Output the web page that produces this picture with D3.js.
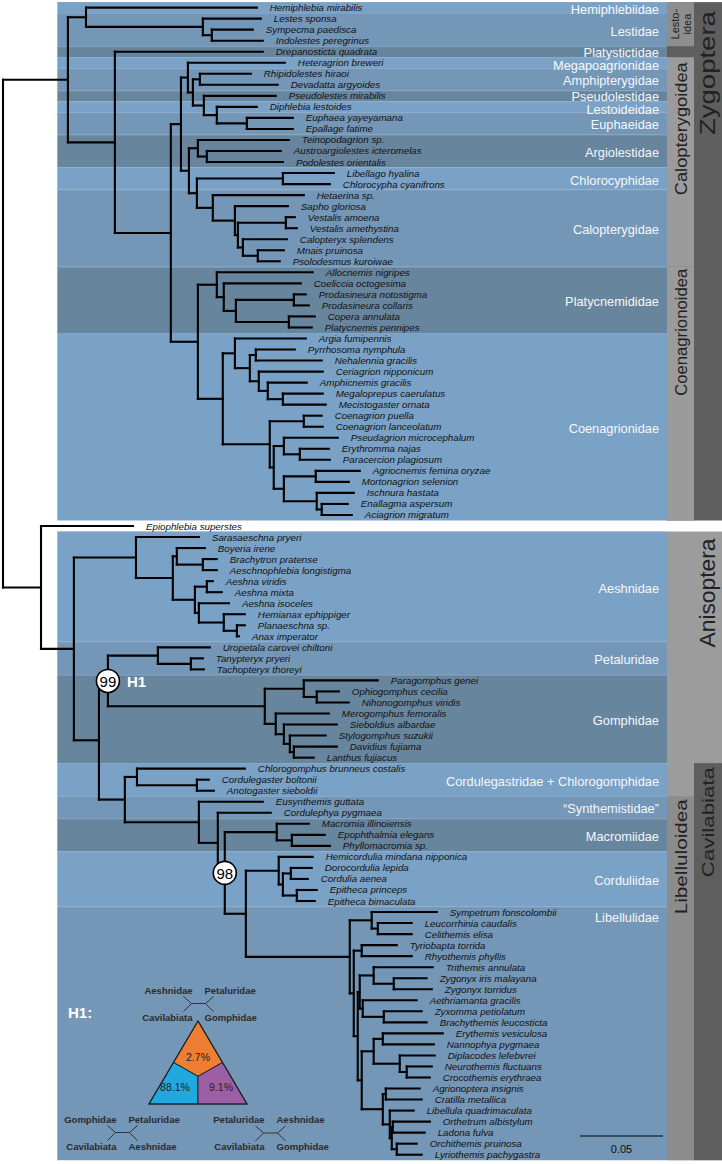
<!DOCTYPE html>
<html><head><meta charset="utf-8">
<script src="https://cdn.jsdelivr.net/npm/d3@7/dist/d3.min.js"></script>
<style>body{margin:0;background:#fff}svg{display:block}</style>
</head><body>
<script>
// ---------------- DATA ----------------
const tipNames = [
"Hemiphlebia mirabilis","Lestes sponsa","Sympecma paedisca","Indolestes peregrinus","Drepanosticta quadrata",
"Heteragrion breweri","Rhipidolestes hiraoi","Devadatta argyoides","Pseudolestes mirabilis","Diphlebia lestoides",
"Euphaea yayeyamana","Epallage fatime","Teinopodagrion sp.","Austroargiolestes icteromelas","Podolestes orientalis",
"Libellago hyalina","Chlorocypha cyanifrons","Hetaerina sp.","Sapho gloriosa","Vestalis amoena",
"Vestalis amethystina","Calopteryx splendens","Mnais pruinosa","Psolodesmus kuroiwae","Allocnemis nigripes",
"Coeliccia octogesima","Prodasineura notostigma","Prodasineura collaris","Copera annulata","Platycnemis pennipes",
"Argia fumipennis","Pyrrhosoma nymphula","Nehalennia gracilis","Ceriagrion nipponicum","Amphicnemis gracilis",
"Megaloprepus caerulatus","Mecistogaster ornata","Coenagrion puella","Coenagrion lanceolatum","Pseudagrion microcephalum",
"Erythromma najas","Paracercion plagiosum","Agriocnemis femina oryzae","Mortonagrion selenion","Ischnura hastata",
"Enallagma aspersum","Aciagrion migratum","Epiophlebia superstes","Sarasaeschna pryeri","Boyeria irene",
"Brachytron pratense","Aeschnophlebia longistigma","Aeshna viridis","Aeshna mixta","Aeshna isoceles",
"Hemianax ephippiger","Planaeschna sp.","Anax imperator","Uropetala carovei chiltoni","Tanypteryx pryeri",
"Tachopteryx thoreyi","Paragomphus genei","Ophiogomphus cecilia","Nihonogomphus viridis","Merogomphus femoralis",
"Sieboldius albardae","Stylogomphus suzukii","Davidius fujiama","Lanthus fujiacus","Chlorogomphus brunneus costalis",
"Cordulegaster boltonii","Anotogaster sieboldii","Eusynthemis guttata","Cordulephya pygmaea","Macromia illinoiensis",
"Epophthalmia elegans","Phyllomacromia sp.","Hemicordulia mindana nipponica","Dorocordulia lepida","Cordulia aenea",
"Epitheca princeps","Epitheca bimaculata","Sympetrum fonscolombii","Leucorrhinia caudalis","Celithemis elisa",
"Tyriobapta torrida","Rhyothemis phyllis","Trithemis annulata","Zygonyx iris malayana","Zygonyx torridus",
"Aethriamanta gracilis","Zyxomma petiolatum","Brachythemis leucosticta","Erythemis vesiculosa","Nannophya pygmaea",
"Diplacodes lefebvrei","Neurothemis fluctuans","Crocothemis erythraea","Agrionoptera insignis","Cratilla metallica",
"Libellula quadrimaculata","Orthetrum albistylum","Ladona fulva","Orchithemis pruinosa","Lyriothemis pachygastra"];

// clades: "tipIndex:depth" or "(children):depth[#support]"; depth = distance from root (subst./site)
const cladeLestoidea = "(0:0.1529,(1:0.1553,(2:0.1505,3:0.1565):0.1258):0.1204):0.0500";
const cladePseudolestes = "(8:0.1643,(9:0.1529,(10:0.1746,11:0.1746):0.1469):0.1288):0.1210";
const cladeCalA = `(5:0.1698,((6:0.1493,7:0.1655):0.1186,${cladePseudolestes}):0.1144):0.1114`;
const cladeArgiolestidae = "(12:0.1722,(13:0.1673,14:0.1686):0.1228):0.1174";
const cladeCalopterygidae = "(17:0.1812,(18:0.1716,((19:0.1758,20:0.1770):0.1704,(21:0.1710,(22:0.1692,23:0.1667):0.1535):0.1445):0.1415):0.1397):0.1264";
const cladeCalB = `(${cladeArgiolestidae},((15:0.1993,16:0.1969):0.1686,${cladeCalopterygidae}):0.1168):0.1120`;
const cladeCalopterygoidea = `(${cladeCalA},${cladeCalB}):0.1072`;
const cladePlatycnemididae = "(24:0.1866,(25:0.1794,((26:0.1824,27:0.1842):0.1752,(28:0.1878,29:0.1860):0.1722):0.1403):0.1330):0.1288";
const cladeCoenA = "(30:0.1824,((31:0.1758,32:0.1920):0.1523,(33:0.1926,(34:0.1830,(35:0.1926,36:0.1944):0.1686):0.1595):0.1541):0.1487):0.1397";
const cladeCoenB = "((37:0.1920,38:0.1926):0.1812,((39:0.2017,(40:0.1963,41:0.1969):0.1788):0.1692,((42:0.2149,43:0.2083):0.1884,(44:0.2113,(45:0.2077,46:0.2101):0.1920):0.1890):0.1692):0.1631):0.1607";
const cladeCoenagrionoidea = `(${cladePlatycnemididae},(${cladeCoenA},${cladeCoenB}):0.1324):0.1174`;
const cladeZygoptera = `(${cladeLestoidea},(4:0.1565,(${cladeCalopterygoidea},${cladeCoenagrionoidea}):0.1011):0.0674):0.0391`;

const cladeAeshnidae = "(48:0.1180,((49:0.1216,(50:0.1288,51:0.1288):0.1204):0.1047,((52:0.1264,53:0.1318):0.1228,(54:0.1361,(55:0.1457,(56:0.1457,57:0.1421):0.1409):0.1330):0.1180):0.1156):0.1023):0.0801";
const cladePetaluridae = "(58:0.1246,(59:0.1204,60:0.1210):0.1132):0.0933";
const cladeGomphidae = "((61:0.2258,(62:0.2023,63:0.2083):0.1890):0.1812,(64:0.1963,(65:0.2011,(66:0.1944,(67:0.2011,68:0.1872):0.1752):0.1728):0.1692):0.1643):0.1577";
const cladeCordulegastridae = "(69:0.1457,(70:0.1240,71:0.1270):0.1168):0.0807";
const cladeMacromiidae = "(74:0.1842,(75:0.1938,76:0.1969):0.1740):0.1649";
const cladeCorduliidae = "(77:0.1866,((78:0.1860,79:0.1836):0.1734,(80:0.1890,81:0.1878):0.1770):0.1686):0.1661";
const cladeLibA = "((87:0.2589,(88:0.2552,89:0.2583):0.2354):0.2233,(90:0.2492,(91:0.2522,92:0.2552):0.2294):0.2167):0.2149";
const cladeLibB = "(((93:0.2649,94:0.2595):0.2288,(95:0.2601,(96:0.2583,97:0.2571):0.2432):0.2390):0.2233,((98:0.2510,99:0.2522):0.2306,(100:0.2474,((101:0.2571,102:0.2540):0.2348,(103:0.2492,104:0.2522):0.2372):0.2342):0.2330):0.2288):0.2161";
const cladeLibellulidae = `((82:0.2613,(83:0.2462,84:0.2462):0.2258):0.2221,((85:0.2372,86:0.2462):0.2161,(${cladeLibA},${cladeLibB}):0.2137):0.2113):0.2089`;
const cladeLibelluloidea = `(72:0.1565,(73:0.1613,(${cladeMacromiidae},(${cladeCorduliidae},${cladeLibellulidae}):0.1463):0.1336#98):0.1294):0.1180`;
const cladeAnisoptera = `(${cladeAeshnidae},((${cladePetaluridae},${cladeGomphidae}):0.0632#99,(${cladeCordulegastridae},${cladeLibelluloidea}):0.0734):0.0578):0.0427`;
const treeString = `(${cladeZygoptera},(47:0.0783,${cladeAnisoptera}):0.0229):0`;

const familyNames = ["Hemiphlebiidae","Lestidae","Platystictidae","Megapoagrionidae","Amphipterygidae","Pseudolestidae",
"Lestoideidae","Euphaeidae","Argiolestidae","Chlorocyphidae","Calopterygidae","Platycnemididae","Coenagrionidae",
"Aeshnidae","Petaluridae","Gomphidae","Cordulegastridae + Chlorogomphidae","\u201CSynthemistidae\u201D","Macromiidae","Corduliidae","Libellulidae"];
const familyFirstTip = [0,1,4,5,6,8,9,10,12,15,17,24,30,48,58,61,69,72,74,77,82];
const familyLastTip  = [0,3,4,5,7,8,9,11,14,16,23,29,46,57,60,68,71,73,76,81,104];
const familySuborder = ["Z","Z","Z","Z","Z","Z","Z","Z","Z","Z","Z","Z","Z","A","A","A","A","A","A","A","A"];

const higherNames = ["Zygoptera","Lesto-\nidea","Calopterygoidea","Coenagrionoidea","Anisoptera","Cavilabiata","Libelluloidea"];
const higherFirstTip = [0,0,5,24,48,69,72];
const higherLastTip  = [46,3,23,46,104,104,104];

const quartetSupport = [2.7, 88.1, 9.1];
const quartetTopologies = [
  ["Aeshnidae","Petaluridae","Cavilabiata","Gomphidae"],
  ["Gomphidae","Petaluridae","Cavilabiata","Aeshnidae"],
  ["Petaluridae","Aeshnidae","Cavilabiata","Gomphidae"]];
const scaleBarLength = 0.05;

// ---------------- DRAW ----------------
const W = 722, H = 1164;
const FONT = "'Liberation Sans', Arial, Helvetica, sans-serif";
const svg = d3.select("body").append("svg").attr("width", W).attr("height", H)
  .style("font-family", FONT);

function parseTree(str){
  let i = 0;
  function meta(){
    const m = /^:([0-9.]+)(?:#(\w+))?/.exec(str.slice(i));
    i += m[0].length;
    return {depth:+m[1], support:m[2] || null};
  }
  function node(){
    if (str[i] === "("){
      i++;
      const children = [node()];
      while (str[i] === ","){ i++; children.push(node()); }
      i++;
      return Object.assign({children}, meta());
    }
    const m = /^\d+/.exec(str.slice(i)); i += m[0].length;
    return Object.assign({tip:+m[0]}, meta());
  }
  return node();
}

const root = d3.hierarchy(parseTree(treeString));
const x = d3.scaleLinear().domain([0, 0.05]).range([3, 86]);
const y = d3.scaleLinear().domain([0, tipNames.length - 1]).range([7.6, 1154.7]);
const step = y(1) - y(0);
root.eachAfter(n => {
  n.px = x(n.data.depth);
  if (n.children) n.py = (n.children[0].py + n.children[n.children.length-1].py) / 2;
  else n.py = y(n.data.tip);
});

const bandLeft = 57.3, bandRight = 667;
const shades = ["#7aa2c6", "#7496b7", "#68859e"];

// family bands
const gBands = svg.append("g");
const gBandLabels = svg.append("g");
let zi = 0, ai = 0;
const famLabels = [];
familyNames.forEach((name, k) => {
  const idx = familySuborder[k] === "Z" ? zi++ : ai++;
  const top = y(familyFirstTip[k]) - step/2, bot = y(familyLastTip[k]) + step/2;
  gBands.append("rect").attr("x", bandLeft).attr("y", top).attr("width", bandRight - bandLeft)
    .attr("height", bot - top).attr("fill", shades[idx % 3]);
  gBands.append("line").attr("x1", bandLeft).attr("x2", bandRight).attr("y1", top + 0.5).attr("y2", top + 0.5)
    .attr("stroke", "#86a9c8").attr("stroke-width", 1).attr("opacity", 0.6);
  const ly = name === "Libellulidae" ? top + 11 : (top + bot) / 2 + 1.5;
  famLabels.push({name, ly});
});
// keep neighbouring single-row labels from colliding
for (let k = 0; k < famLabels.length - 1; k++) {
  const gap = famLabels[k+1].ly - famLabels[k].ly, minGap = 13;
  if (gap < minGap) { famLabels[k].ly -= (minGap - gap) / 2; famLabels[k+1].ly += (minGap - gap) / 2; }
}
famLabels.forEach(f => {
  gBandLabels.append("text").attr("x", 659).attr("y", f.ly).attr("text-anchor", "end")
    .attr("dominant-baseline", "central").attr("fill", "#f5f7fa").attr("font-size", 12.8).text(f.name);
});

// higher taxa columns
const col0 = 667, col1 = 694, colEnd = 722;
const higherStyle = {
  "Zygoptera":      {x0: col0, x1: colEnd, fill: "#5e5e5e", fs: 22, cx: 707, anchor: "end", pad: 9, len: 124},
  "Lesto-\nidea":   {x0: col0, x1: col1, fill: "#8e8e8e", fs: 11, cx: 680.5, anchor: "middle"},
  "Calopterygoidea":{x0: col0, x1: col1, fill: "#9b9b9b", fs: 17, cx: 681, anchor: "end", pad: 5, len: 133},
  "Coenagrionoidea":{x0: col0, x1: col1, fill: "#9b9b9b", fs: 16.5, cx: 681, anchor: "end", pad: 2, len: 127},
  "Anisoptera":     {x0: col0, x1: colEnd, fill: "#9c9c9c", fs: 22.5, cx: 707, anchor: "end", pad: 7, len: 109},
  "Cavilabiata":    {x0: col1, x1: colEnd, fill: "#5e5e5e", fs: 17, cx: 708, anchor: "end", pad: 4, len: 110},
  "Libelluloidea":  {x0: col0, x1: col1, fill: "#8c8c8c", fs: 17, cx: 681, anchor: "end", pad: 3, len: 115}
};
const gHigh = svg.append("g");
higherNames.forEach((name, k) => {
  const s = higherStyle[name];
  const top = y(higherFirstTip[k]) - step/2, bot = y(higherLastTip[k]) + step/2;
  gHigh.append("rect").attr("x", s.x0).attr("y", top).attr("width", s.x1 - s.x0).attr("height", bot - top)
    .attr("fill", s.fill);
});
higherNames.forEach((name, k) => {
  const s = higherStyle[name];
  const top = y(higherFirstTip[k]) - step/2, bot = y(higherLastTip[k]) + step/2;
  const lines = name.split("\n");
  if (s.anchor === "middle") {
    lines.forEach((ln, j) => {
      gHigh.append("text").attr("transform", `translate(${s.cx - 6 + j*12},${(top+bot)/2}) rotate(-90)`)
        .attr("text-anchor", "middle").attr("dominant-baseline", "central")
        .attr("font-size", s.fs).attr("fill", "#222").text(ln);
    });
  } else {
    const t = gHigh.append("text").attr("transform", `translate(${s.cx},${top + s.pad}) rotate(-90)`)
      .attr("text-anchor", "end").attr("dominant-baseline", "central")
      .attr("font-size", s.fs).attr("fill", "#222").text(name);
    if (s.len) t.attr("textLength", s.len).attr("lengthAdjust", "spacingAndGlyphs");
  }
});

// tree edges
const gTree = svg.append("g").attr("stroke", "#000").attr("stroke-width", 2.1)
  .attr("stroke-linecap", "square").attr("fill", "none");
root.descendants().forEach(n => {
  if (n.children) {
    const a = n.children[0].py, b = n.children[n.children.length-1].py;
    gTree.append("path").attr("d", `M${n.px},${a}V${b}`);
  }
  if (n.parent) gTree.append("path").attr("d", `M${n.parent.px},${n.py}H${n.px}`);
});

// tip labels
svg.append("g").selectAll("text").data(root.leaves()).join("text")
  .attr("x", d => d.px + 13).attr("y", d => d.py)
  .attr("dominant-baseline", "central").attr("font-size", 9.75).attr("font-style", "italic")
  .attr("fill", "#111").text(d => tipNames[d.data.tip]);

// support circles
const supNodes = root.descendants().filter(n => n.data.support);
supNodes.forEach(n => {
  svg.append("circle").attr("cx", n.px).attr("cy", n.py).attr("r", 11.5)
    .attr("fill", "#fff").attr("stroke", "#000").attr("stroke-width", 1.6);
  svg.append("text").attr("x", n.px).attr("y", n.py + 0.5).attr("text-anchor", "middle")
    .attr("dominant-baseline", "central").attr("font-size", 15).attr("fill", "#000").text(n.data.support);
  if (n.data.support === "99")
    svg.append("text").attr("x", n.px + 19).attr("y", n.py + 0.5).attr("dominant-baseline", "central")
      .attr("font-size", 15).attr("font-weight", "bold").attr("fill", "#fff").text("H1");
});

// scale bar
const sb0 = 580;
svg.append("line").attr("x1", sb0).attr("x2", sb0 + (x(scaleBarLength) - x(0))).attr("y1", 1136).attr("y2", 1136)
  .attr("stroke", "#000").attr("stroke-width", 1);
svg.append("text").attr("x", sb0 + (x(scaleBarLength) - x(0))/2).attr("y", 1149).attr("text-anchor", "middle")
  .attr("dominant-baseline", "central").attr("font-size", 11).attr("fill", "#111").text(scaleBarLength);

// H1 inset
svg.append("text").attr("x", 68).attr("y", 1012).attr("dominant-baseline", "central")
  .attr("font-size", 15).attr("font-weight", "bold").attr("fill", "#fff").text("H1:");
const T = {ax: 198, ay: 1021, by: 1104, hw: 49};
const A = [T.ax, T.ay], BL = [T.ax - T.hw, T.by], BR = [T.ax + T.hw, T.by];
const C = [T.ax, T.ay + (T.by - T.ay) * 2/3];
const mid = (p, q) => [(p[0]+q[0])/2, (p[1]+q[1])/2];
const mL = mid(A, BL), mR = mid(A, BR), mB = mid(BL, BR);
const regions = [
  {pts: [A, mR, C, mL], fill: "#ee7e32", label: [C[0], (A[1] + C[1]) / 2 + 8]},
  {pts: [mL, C, mB, BL], fill: "#20a9e1", label: [C[0] - 23, C[1] + 11]},
  {pts: [C, mR, BR, mB], fill: "#9c5fa6", label: [C[0] + 23, C[1] + 11]}];
regions.forEach((r, k) => {
  svg.append("path").attr("d", "M" + r.pts.map(p => p.join(",")).join("L") + "Z")
    .attr("fill", r.fill).attr("stroke", "#222").attr("stroke-width", 1);
  svg.append("text").attr("x", r.label[0]).attr("y", r.label[1]).attr("text-anchor", "middle")
    .attr("dominant-baseline", "central").attr("font-size", 10.5).attr("fill", "#222")
    .text(quartetSupport[k] + "%");
});
svg.append("path").attr("d", "M" + [A, BL, BR].map(p => p.join(",")).join("L") + "Z")
  .attr("fill", "none").attr("stroke", "#222").attr("stroke-width", 1.2);

const quartetCenters = [[198.5, 1003.5], [122.5, 1132.5], [270.5, 1133]];
quartetTopologies.forEach((labs, k) => {
  const [cx, cy] = quartetCenters[k];
  const g = svg.append("g");
  g.append("path").attr("d",
    `M${cx-15},${cy-7}L${cx-7},${cy}L${cx+7},${cy}L${cx+15},${cy-7}M${cx-15},${cy+8}L${cx-7},${cy}M${cx+7},${cy}L${cx+15},${cy+8}`)
    .attr("fill", "none").attr("stroke", "#333").attr("stroke-width", 1);
  const pos = [[cx-6, cy-10, "end"], [cx+6, cy-10, "start"], [cx-6, cy+17, "end"], [cx+6, cy+17, "start"]];
  labs.forEach((t, j) => {
    g.append("text").attr("x", pos[j][0]).attr("y", pos[j][1]).attr("text-anchor", pos[j][2])
      .attr("font-size", 9.5).attr("font-weight", "bold").attr("fill", "#2b2b2b").text(t);
  });
});
</script>
</body></html>
